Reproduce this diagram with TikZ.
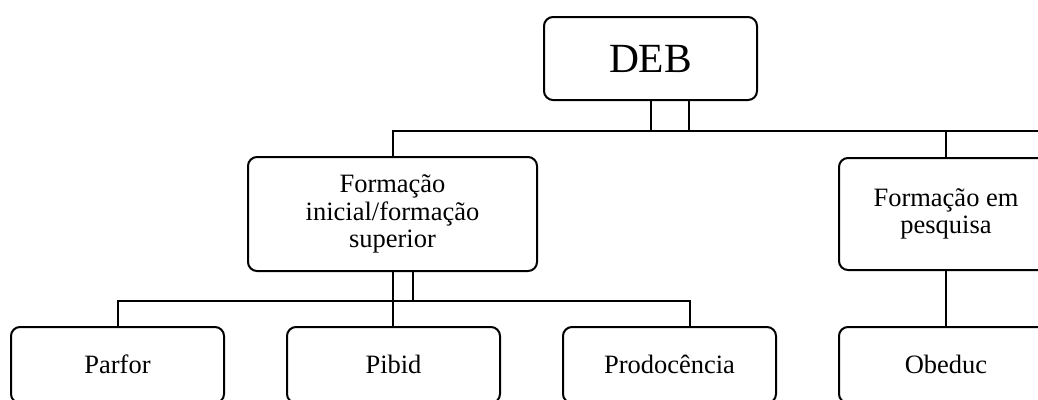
\documentclass[tikz,border=0pt]{standalone}
\usepackage{fontspec}
\setmainfont{Liberation Serif}
\usetikzlibrary{positioning, calc}

\begin{document}
\begin{tikzpicture}[
    x=1pt, y=-1pt,
    % Global Styles
    block/.style={
        rectangle,
        draw=black,
        line width=2pt,
        rounded corners=9pt,
        fill=white,
        align=center,
        inner sep=0pt,
        font=\fontsize{26.5}{27.5}\selectfont
    },
    leaf/.style={
        block,
        minimum width=213pt,
        minimum height=76pt,
        text height=18pt,
        text depth=2pt
    },
    link/.style={
        draw=black,
        line width=2pt
    }
]
    \useasboundingbox (0,0) rectangle (1038,399);

    % --- Placement of Nodes ---

    % Top
    \node[block, minimum width=213pt, minimum height=83pt, font=\fontsize{41.5}{45}\selectfont] (deb) at (650.5,58.5) {DEB};

    % Middle row
    \node[block, minimum width=289pt, minimum height=114pt] (inicial) at (392.5,214) {Formação\\inicial/formação\\superior};
    \node[block, minimum width=214pt, minimum height=112pt] (pesquisa) at (946,214) {Formação em\\pesquisa};

    % Bottom row (runs off the page)
    \node[leaf] (parfor) at (117.5,365) {Parfor};
    \node[leaf] (pibid) at (393.5,365) {Pibid};
    \node[leaf] (prodoc) at (669.5,365) {Prodocência};
    \node[leaf, minimum width=214pt] (obeduc) at (946,365) {Obeduc};

    % Bus lines
    \coordinate (topbus) at (0,131);
    \coordinate (lowbus) at (0,301);
    \coordinate (busend) at (1045,131);

    % --- Connections ---

    % 1. DEB -> top bus (double stem)
    \draw[link] (deb.south) -- (deb.south |- topbus) -- ($(deb.south |- topbus)+(38.5,0)$) -- ($(deb.south)+(38.5,0)$);
    \draw[link] (inicial.north) -- (inicial.north |- topbus) -- (busend);
    \draw[link] (pesquisa.north) -- (pesquisa.north |- topbus);

    % 2. Formação inicial -> bottom bus (double stem)
    \draw[link] (inicial.south) -- (inicial.south |- pibid.north);
    \draw[link] (inicial.south |- lowbus) -- ++(20,0) -- ($(inicial.south)+(20,0)$);
    \draw[link] (parfor.north) -- (parfor.north |- lowbus) -- ($(prodoc.north |- lowbus)+(20,0)$) -- ($(prodoc.north)+(20,0)$);

    % 3. Formação em pesquisa -> Obeduc
    \draw[link] (pesquisa.south) -- (obeduc.north);

\end{tikzpicture}
\end{document}
